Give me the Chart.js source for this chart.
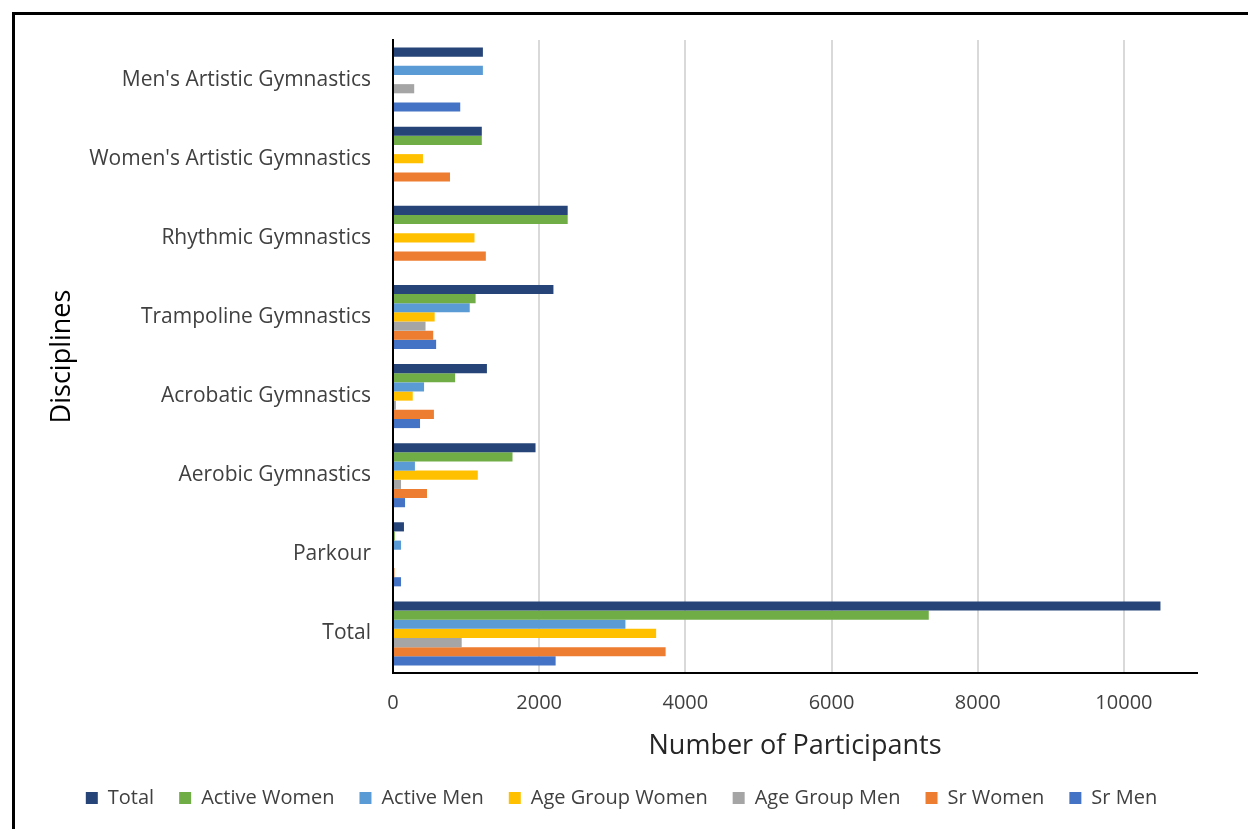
<!DOCTYPE html>
<html>
<head>
<meta charset="utf-8">
<script src="https://cdn.jsdelivr.net/npm/chart.js@4"></script>
<style>
  html, body { margin: 0; padding: 0; background: #fff; }
  #frame { position: absolute; left: 12px; top: 12px; width: 1250px; height: 830px;
           border-left: 3px solid #000; border-top: 3px solid #000; }
  #wrap { position: absolute; left: 0; top: 0; width: 1248px; height: 829px; }
</style>
</head>
<body>
<div id="frame"></div>
<div id="wrap"><canvas id="grafico"></canvas></div>
<script>
const disciplinas = ["Men's Artistic Gymnastics", "Women's Artistic Gymnastics", 'Rhythmic Gymnastics',
  'Trampoline Gymnastics', 'Acrobatic Gymnastics', 'Aerobic Gymnastics', 'Parkour', 'Total'];

const total          = [1230, 1215, 2390, 2195, 1285, 1950, 150, 10500];
const activeWomen    = [null, 1215, 2390, 1130, 850, 1635, 25, 7330];
const activeMen      = [1230, null, null, 1050, 425, 300, 110, 3180];
const ageGroupWomen  = [null, 410, 1115, 570, 270, 1160, null, 3600];
const ageGroupMen    = [290, null, null, 445, 40, 110, null, 940];
const srWomen        = [null, 780, 1270, 550, 560, 465, 20, 3730];
const srMen          = [920, null, null, 590, 370, 165, 110, 2225];

const xTicks = [0, 2000, 4000, 6000, 8000, 10000];

document.addEventListener('DOMContentLoaded', function() {
    const ctx = document.getElementById('grafico').getContext('2d');
    Chart.defaults.font.family = "'Open Sans', 'Liberation Sans', sans-serif";

    const serie = (label, data, cor) => ({
        label: label, data: data, backgroundColor: cor, borderWidth: 0,
        barPercentage: 1.0, categoryPercentage: 0.81
    });

    const dados = {
        labels: disciplinas,
        datasets: [
            serie('Total', total, '#264478'),
            serie('Active Women', activeWomen, '#70AD47'),
            serie('Active Men', activeMen, '#5B9BD5'),
            serie('Age Group Women', ageGroupWomen, '#FFC000'),
            serie('Age Group Men', ageGroupMen, '#A5A5A5'),
            serie('Sr Women', srWomen, '#ED7D31'),
            serie('Sr Men', srMen, '#4472C4')
        ]
    };

    const config = {
        type: 'bar',
        data: dados,
        options: {
            indexAxis: 'y',
            responsive: true,
            maintainAspectRatio: false,
            animation: false,
            layout: { padding: { left: 46, right: 51, top: 40, bottom: 11 } },
            plugins: {
                tooltip: { enabled: false },
                legend: {
                    position: 'bottom',
                    labels: {
                        boxWidth: 12, boxHeight: 12, padding: 25,
                        color: '#404040', font: { size: 20 }
                    }
                }
            },
            scales: {
                x: {
                    min: 0, max: 11000,
                    afterBuildTicks: s => { s.ticks = xTicks.map(v => ({ value: v })); },
                    afterFit: s => { s.height = 90; },
                    ticks: { color: '#404040', font: { size: 20 }, padding: 18,
                             callback: v => String(v) },
                    grid: {
                        drawTicks: false, lineWidth: 2,
                        color: c => (c.tick && c.tick.value === 0) ? 'rgba(0,0,0,0)' : '#d9d9d9'
                    },
                    border: { color: '#000', width: 2 },
                    title: {
                        display: true, text: 'Number of Participants', color: '#262626',
                        font: { size: 27 }, padding: { top: 0, bottom: 0 }
                    }
                },
                y: {
                    afterFit: s => { s.width = 393 - 46; },
                    ticks: { color: '#404040', font: { size: 21 }, padding: 22 },
                    grid: { drawTicks: false, color: 'rgba(0,0,0,0)' },
                    border: { color: '#000', width: 2 },
                    title: {
                        display: true, text: 'Disciplines', color: '#000',
                        font: { size: 27 }, padding: { top: 0, bottom: 0 }
                    }
                }
            }
        }
    };

    new Chart(ctx, config);
});
</script>
</body>
</html>
